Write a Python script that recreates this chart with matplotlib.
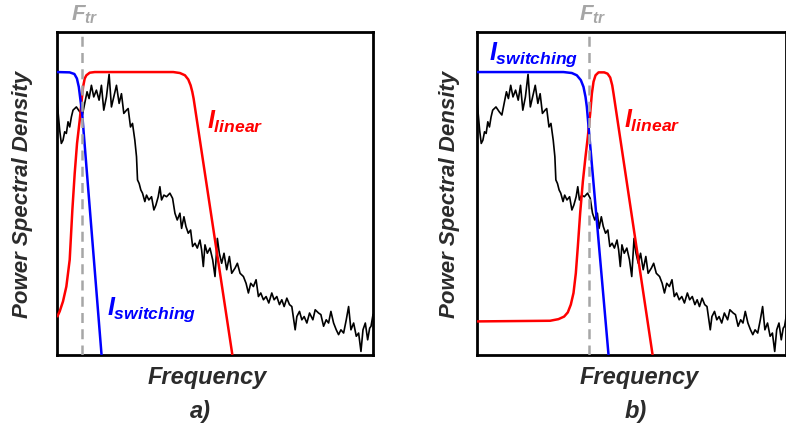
import matplotlib
matplotlib.use("Agg")
import matplotlib.pyplot as plt

plt.rcParams['font.family'] = ['Liberation Sans', 'DejaVu Sans']
plt.rcParams['mathtext.fontset'] = 'custom'
plt.rcParams['mathtext.it'] = 'Liberation Sans:bold:italic'
plt.rcParams['mathtext.rm'] = 'Liberation Sans:bold'
plt.rcParams['mathtext.bf'] = 'Liberation Sans:bold'

# ---- data (normalised frequency 0-100, normalised PSD 0-100) ----
psd_freq = [0, 0.85, 1.37, 1.90, 2.43, 2.96, 3.49, 4.02, 4.55, 5.07, 6.13, 7.19, 8.03, 8.77, 9.51,
            10.15, 10.89, 11.63, 12.47, 13.32, 14.06, 14.80, 15.64, 16.49, 17.23, 17.97, 18.82,
            19.66, 20.40, 21.14, 21.99, 22.52, 23.26, 23.89, 24.63, 25.16, 25.48, 26.00, 26.53,
            27.06, 27.80, 28.33, 29.07, 29.92, 30.66, 31.29, 32.03, 32.56, 33.09, 33.83, 34.67,
            35.73, 36.58, 37.32, 38.05, 38.90, 39.43, 40.17, 40.80, 41.54, 42.28, 42.92, 43.66,
            44.40, 45.24, 45.77, 46.30, 46.83, 47.57, 48.41, 49.26, 50.00, 50.74, 51.37, 52.11,
            52.85, 53.70, 54.55, 55.29, 56.34, 57.08, 57.93, 58.99, 59.83, 60.57, 61.31, 62.16,
            63.00, 63.74, 64.48, 65.33, 66.17, 67.02, 67.97, 68.71, 69.56, 70.40, 71.14, 71.88,
            72.73, 73.57, 74.31, 75.37, 75.90, 76.74, 77.48, 78.22, 79.07, 79.92, 80.97, 81.71,
            82.77, 83.51, 84.36, 85.20, 85.94, 86.68, 87.53, 88.37, 89.11, 89.85, 90.70, 91.54,
            92.28, 93.02, 93.87, 94.71, 95.45, 96.19, 96.83, 97.57, 98.31, 98.94, 99.37, 100]
psd_vals = [78.9, 69.6, 65.5, 66.5, 69.1, 68.6, 72.2, 70.6, 73.7, 75.8, 76.8, 75.3, 74.3, 77.9, 81.5,
            79.4, 83.5, 79.9, 82.0, 78.9, 83.5, 75.8, 79.9, 86.9, 76.8, 79.9, 83.5,
            77.9, 80.9, 74.8, 75.8, 76.3, 70.6, 71.7, 66.5, 61.4, 54.2, 53.1, 51.1,
            50.1, 47.5, 49.5, 48.0, 49.0, 44.9, 46.4, 49.0, 52.1, 48.0, 49.5, 49.0,
            50.1, 48.5, 43.9, 41.8, 43.9, 39.2, 42.8, 39.8, 37.7, 38.7, 33.6, 34.6,
            33.1, 35.6, 32.5, 27.4, 34.1, 31.5, 33.1, 29.5, 24.3, 36.1, 31.5, 28.4,
            31.5, 26.4, 30.5, 25.3, 26.9, 28.4, 25.3, 24.3, 22.2, 19.2, 22.2, 21.2,
            23.3, 18.1, 19.2, 17.1, 18.1, 16.1, 19.2, 17.1, 18.1, 15.6, 17.1, 15.0,
            17.6, 15.6, 15.0, 7.8, 11.9, 13.5, 10.9, 11.9, 9.9, 13.0, 10.9, 14.0,
            13.0, 12.5, 8.9, 10.9, 9.9, 13.5, 9.9, 7.8, 6.3, 7.8, 6.8, 10.9,
            15.0, 7.8, 9.9, 5.8, 6.8, 1.1, 7.8, 9.9, 4.7, 8.3, 8.9, 12.5]

# panel a filters
sw_a_freq = [0, 4.0, 5.5, 6.3, 6.9, 7.3, 7.7, 8.0, 14.1]
sw_a_vals = [87.6, 87.5, 87.0, 85.6, 83.0, 79.9, 76.8, 74.3, 0]
lin_a_freq = [0, 0.85, 1.90, 2.96, 4.02, 4.86, 5.60, 6.34, 7.19, 7.82, 8.25, 8.77, 9.30, 10.36,
              11.95, 36.79, 38.90, 40.49, 41.54, 42.28, 42.81, 43.23, 55.50]
lin_a_vals = [11.7, 13.5, 16.6, 21.2, 29.5, 44.9, 56.2, 65.5, 72.7, 78.9, 83.0, 85.6, 86.6, 87.4,
              87.6, 87.6, 87.3, 86.6, 85.3, 83.5, 81.5, 79.4, 0]
ftr_a = 7.82

# panel b filters
sw_b_freq = [0, 27.94, 30.64, 32.25, 33.55, 34.41, 35.06, 35.49, 42.50]
sw_b_vals = [87.6, 87.6, 87.3, 86.6, 85.1, 83.0, 79.9, 76.8, 0]
lin_b_freq = [0, 23.62, 26.32, 28.16, 29.34, 30.31, 31.18, 31.93, 32.58, 33.33, 34.20, 35.06,
              35.81, 36.57, 37.11, 37.65, 38.30, 39.27, 41.10, 42.18, 43.04, 43.69, 44.12, 56.74]
lin_b_vals = [10.4, 10.6, 11.1, 11.9, 13.2, 15.6, 19.2, 25.3, 33.6, 43.9, 53.7, 61.4,
              67.6, 74.8, 80.9, 84.6, 86.6, 87.5, 87.5, 87.1, 85.9, 83.5, 80.9, 0]
ftr_b = 36.25

W, H = 786, 436
fig = plt.figure(figsize=(W / 100, H / 100), dpi=100)

RED = '#ff0000'
BLUE = '#0000ff'
GRAY = '#a6a6a6'
TXT = '#2b2b2b'


def px_axes(left, top, right, bottom):
    return fig.add_axes([left / W, 1 - bottom / H, (right - left) / W, (bottom - top) / H])


def ftext(x, y, s, **kw):
    fig.text(x / W, 1 - y / H, s, **kw)


panels = [
    dict(box=(57, 32, 373, 355), sw=(sw_a_freq, sw_a_vals), lin=(lin_a_freq, lin_a_vals), ftr=ftr_a),
    dict(box=(477, 32, 786.5, 355), sw=(sw_b_freq, sw_b_vals), lin=(lin_b_freq, lin_b_vals), ftr=ftr_b),
]

for p in panels:
    ax = px_axes(*p['box'])
    ax.plot(psd_freq, psd_vals, color='black', lw=1.2, zorder=3)
    ax.plot(*p['lin'], color=RED, lw=1.8, zorder=4, solid_capstyle='butt')
    ax.plot(*p['sw'], color=BLUE, lw=1.8, zorder=4, solid_capstyle='butt')
    ax.axvline(p['ftr'], color=GRAY, lw=1.8, ls=(0, (4, 2.5)), zorder=5)
    ax.set_xlim(0, 100)
    ax.set_ylim(0, 100)
    ax.set_xticks([])
    ax.set_yticks([])
    for s in ax.spines.values():
        s.set_linewidth(2.0)
        s.set_color('black')

lab = dict(fontweight='bold', fontstyle='italic', color=TXT)
# axis labels
ftext(207.5, 377, 'Frequency', ha='center', va='center', fontsize=17, **lab)
ftext(639, 377, 'Frequency', ha='center', va='center', fontsize=17, **lab)
ftext(22.5, 194, 'Power Spectral Density', ha='center', va='center', rotation=90, fontsize=16, **lab)
ftext(449, 194, 'Power Spectral Density', ha='center', va='center', rotation=90, fontsize=16, **lab)
ftext(200, 411, 'a)', ha='center', va='center', fontsize=17, **lab)
ftext(636, 411, 'b)', ha='center', va='center', fontsize=17, **lab)

# curve labels
ftext(71, 20, r'$F_{tr}$', ha='left', va='baseline', fontsize=16, color=GRAY)
ftext(579, 20, r'$F_{tr}$', ha='left', va='baseline', fontsize=16, color=GRAY)
ftext(207, 129, r'$I_{linear}$', ha='left', va='baseline', fontsize=18, color=RED)
ftext(624, 128, r'$I_{linear}$', ha='left', va='baseline', fontsize=18, color=RED)
ftext(107, 315, r'$I_{switching}$', ha='left', va='baseline', fontsize=18, color=BLUE)
ftext(489, 60, r'$I_{switching}$', ha='left', va='baseline', fontsize=18, color=BLUE)

fig.savefig('out.png', dpi=100)
